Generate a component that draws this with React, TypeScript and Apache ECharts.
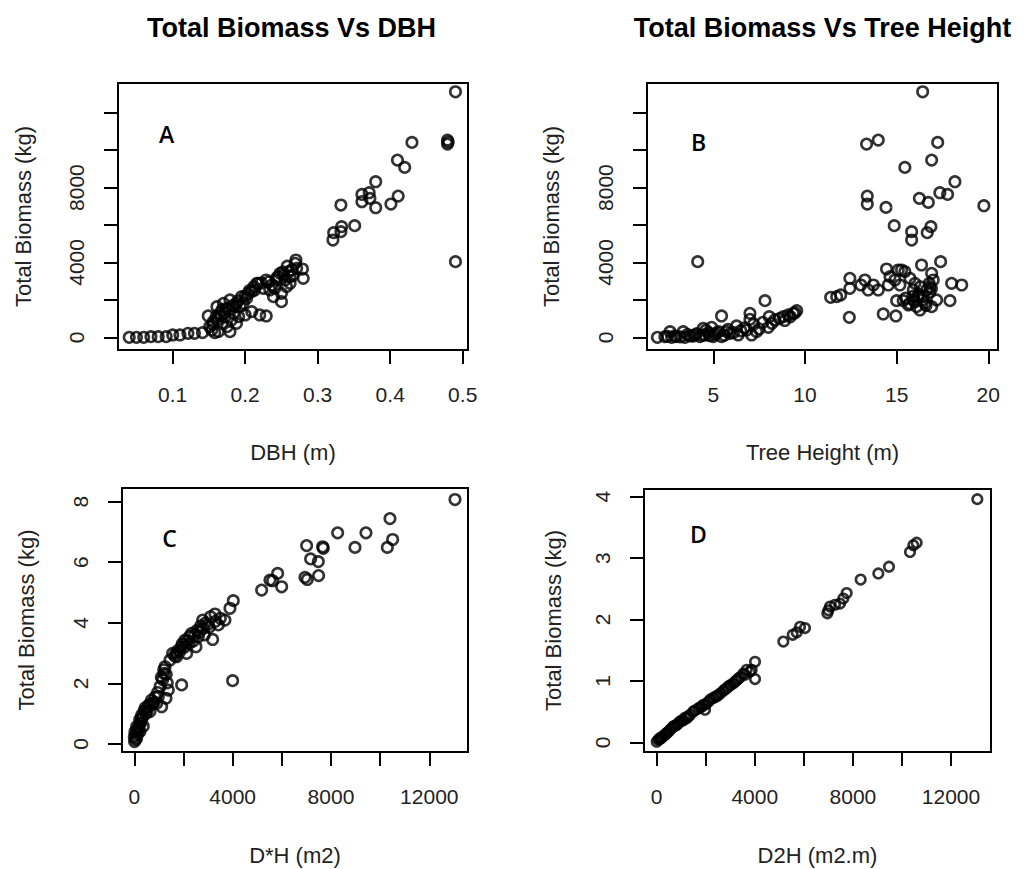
import React, { useEffect, useRef } from "react";
import * as echarts from "echarts";

// ---------- Panel A: Total Biomass vs DBH ----------
const dbhA = [
  0.040, 0.050, 0.060, 0.070, 0.080, 0.091, 0.100, 0.110, 0.121, 0.130, 0.141,
  0.149, 0.151, 0.158, 0.160, 0.161, 0.165, 0.168, 0.170, 0.172, 0.174, 0.179, 0.179,
  0.184, 0.188, 0.188, 0.191, 0.195, 0.200, 0.202, 0.209, 0.209, 0.218, 0.220, 0.225,
  0.229, 0.229, 0.239, 0.241, 0.243, 0.248, 0.250, 0.250, 0.255, 0.260, 0.262, 0.269,
  0.270, 0.271, 0.279, 0.280,
  0.154, 0.156, 0.163, 0.168, 0.175, 0.181, 0.186, 0.193, 0.197, 0.204, 0.213, 0.216,
  0.234, 0.237, 0.246, 0.253, 0.257, 0.262, 0.264,
  0.155, 0.162, 0.166, 0.171, 0.177, 0.183, 0.190, 0.200, 0.206, 0.212, 0.222, 0.232,
  0.244, 0.252, 0.258, 0.266,
  0.321, 0.322, 0.332, 0.333, 0.332, 0.351, 0.361, 0.361, 0.371, 0.372, 0.380, 0.380,
  0.401, 0.411, 0.410, 0.420, 0.430, 0.479, 0.479, 0.480, 0.490, 0.490,
];
const biomassA = [
  0, 0, 0, 36, 36, 36, 125, 125, 214, 214, 250,
  1139, 570, 249, 1104, 1638, 1282, 748, 1816, 1104, 1549, 303, 1994,
  1282, 1816, 748, 1104, 2172, 1193, 2083, 1371, 2439, 2884, 1193, 2617,
  3062, 1139, 2172, 2617, 3062, 3418, 1905, 2350, 3062, 3507, 2884, 3952,
  4130, 3685, 3649, 3151,
  392, 837, 303, 1460, 570, 926, 1638, 1638, 1816, 2350, 2528, 2884,
  2528, 2795, 3240, 3329, 2706, 3240, 3596,
  700, 950, 1150, 1300, 1500, 1700, 1950, 2200, 2500, 2700, 2900, 2950,
  3200, 3500, 3800, 3300,
  5198, 5589, 5643, 5910, 7067, 5963, 7245, 7636, 7725, 7423, 6924, 8313,
  7120, 7547, 9470, 9078, 10413, 10538, 10324, 10430, 13119, 4041,
];

// ---------- Panel B: Total Biomass vs Tree Height ----------
const heightB = [
  1.95, 2.36, 2.64, 2.73, 3.0, 3.36, 3.45, 3.73, 4.0, 4.15, 4.27, 4.45, 4.55, 4.73, 4.91,
  5.0, 5.18, 5.45, 5.45, 5.73, 5.91, 6.27, 6.36, 6.82, 7.0, 7.0, 7.09, 7.36, 7.82, 8.0,
  8.05, 8.36, 8.82, 9.09, 9.36, 9.55,
  2.5, 2.9, 3.2, 3.6, 3.9, 4.1, 4.4, 4.6, 4.8, 5.1, 5.3, 5.6, 5.8, 6.1, 6.5, 6.7, 7.2,
  7.5, 7.7, 8.2, 8.6, 8.9, 9.2, 9.45,
  11.4, 11.73, 11.95, 12.42, 12.45, 12.45, 13.05, 13.27, 13.36, 13.4, 13.4, 13.45, 13.73,
  14.0, 14.0, 14.27, 14.42, 14.45, 14.55, 14.64, 14.87, 14.91, 14.96, 15.0, 15.09, 15.18,
  15.27, 15.36, 15.45, 15.45, 15.64, 15.73, 15.82, 15.82, 15.91, 15.91, 16.0, 16.09, 16.18,
  16.24, 16.27, 16.36, 16.42, 16.45, 16.55, 16.64, 16.67, 16.73, 16.78, 16.82, 16.87, 16.91,
  16.91, 16.91, 17.0, 17.18, 17.24, 17.36, 17.4, 17.78, 17.91, 18.0, 18.18, 18.55, 19.76,
  15.5, 15.7, 16.0, 16.2, 16.4, 16.6, 16.8, 16.9, 16.3, 15.9,
];
const biomassB = [
  0, 36, 303, 0, 36, 303, 0, 71, 125, 4041, 36, 481, 125, 249, 534,
  36, 249, 1139, 36, 303, 214, 605, 125, 392, 1282, 961, 125, 303, 1958, 534,
  1104, 926, 1104, 1193, 1282, 1424,
  50, 80, 20, 150, 60, 200, 100, 380, 90, 150, 300, 100, 420, 250, 350, 500, 700,
  450, 800, 750, 1000, 900, 1100, 1300,
  2136, 2172, 2261, 1068, 2617, 3151, 2795, 3062, 10324, 7120, 7547, 2528, 2795,
  10538, 2528, 1246, 6942, 3649, 2795, 3240, 5963, 3062, 1139, 1958, 3596, 2795,
  3596, 1958, 9078, 3507, 1727, 3151, 5643, 5198, 1994, 2528, 2884, 1638, 2172,
  7423, 1460, 3863, 13119, 2172, 1816, 2528, 5589, 7209, 2884, 2706, 5910, 9470,
  3418, 1638, 3062, 1994, 10413, 7725, 4041, 7636, 1958, 2884, 8313, 2795, 7031,
  2100, 1800, 1900, 2300, 2000, 1700, 2400, 2600, 2700, 2200,
];

// ---------- Panel C: Total Biomass vs D*H ----------
const dhC = [
  13045, 10400, 10509, 10292, 9424, 8977, 8272, 7661, 7688, 7485, 7173, 7010, 6943, 7037,
  7498, 5831, 5994, 5627, 5519, 5180, 4027, 3892, 4000, 3688, 3282, 3417, 3187, 2970, 2780,
  2807, 2604, 2509, 2332, 2237, 2129, 2061, 1926, 1790, 1722, 1559, 1451, 1926, 1207, 1153,
  1342, 1383, 1288, 1112, 976, 800, 570, 475, 298, 231, 95, 27, 0, 10, 95, 231, 366, 637, 909,
  50, 80, 120, 150, 180, 220, 260, 300, 350, 400, 450, 520, 600, 700, 750, 850, 950, 1050,
  1100, 1200, 1250, 1300, 1650, 1700, 1850, 1950, 2050, 2150, 2250, 2400, 2450, 2550, 2650,
  2700, 2850, 2900, 3050, 3100, 3300, 3500,
];
const biomassC = [
  8.07, 7.44, 6.75, 6.49, 6.97, 6.49, 6.97, 6.51, 6.46, 6.02, 6.11, 6.55, 5.5, 5.43,
  5.56, 5.63, 5.19, 5.39, 5.41, 5.08, 4.73, 4.48, 2.09, 4.09, 4.29, 3.93, 3.45, 3.93, 4.09,
  3.82, 3.54, 3.21, 3.65, 3.32, 2.99, 3.43, 3.21, 3.1, 2.88, 2.99, 2.77, 1.95, 2.33, 2.13,
  2.02, 1.78, 1.51, 1.23, 1.56, 1.36, 1.23, 1.01, 0.85, 0.68, 0.57, 0.41, 0.24, 0.08, 0.19,
  0.41, 0.59, 1.07, 1.34,
  0.15, 0.3, 0.45, 0.35, 0.55, 0.8, 0.7, 0.95, 0.9, 1.1, 1.2, 1.1, 1.3, 1.45, 1.35, 1.55, 1.7,
  1.9, 2.2, 2.45, 2.55, 2.3, 2.9, 3.0, 3.05, 3.3, 3.2, 3.4, 3.55, 3.4, 3.6, 3.75, 3.7,
  3.9, 3.6, 4.0, 3.85, 4.2, 4.05, 4.15,
];

// ---------- Panel D: Total Biomass vs D2H ----------
const d2hD = [
  13074, 10600, 10464, 10328, 9472, 9037, 8317, 7746, 7610, 7474, 7270, 7067, 6958, 7000,
  6047, 5844, 5708, 5545, 5164, 4009, 4009, 3873, 3669, 3533, 3330, 3126, 2922, 2718, 2514,
  2310, 2106, 1971, 1903, 1699, 1495, 1291, 1087, 951, 815, 611, 476, 340, 204, 68, 0, 136,
  408, 680, 1223, 1835, 2446, 2854, 3262,
  100, 170, 250, 380, 540, 750, 880, 1020, 1150, 1360, 1560, 1770, 2000, 2200, 2380, 2600,
  2780, 3000, 3200, 3400, 3600, 3800,
];
const biomassD = [
  3.96, 3.25, 3.21, 3.1, 2.86, 2.75, 2.65, 2.43, 2.34, 2.26, 2.24, 2.21, 2.1, 2.15,
  1.86, 1.88, 1.79, 1.75, 1.64, 1.31, 1.03, 1.18, 1.18, 1.12, 1.04, 0.96, 0.91, 0.84, 0.77,
  0.72, 0.66, 0.53, 0.61, 0.55, 0.5, 0.42, 0.36, 0.34, 0.28, 0.23, 0.17, 0.12, 0.08, 0.04,
  0.01, 0.07, 0.15, 0.26, 0.39, 0.58, 0.75, 0.88, 1.01,
  0.05, 0.06, 0.1, 0.14, 0.2, 0.27, 0.31, 0.35, 0.4, 0.45, 0.52, 0.57, 0.62, 0.7, 0.74, 0.8,
  0.86, 0.93, 0.99, 1.06, 1.1, 1.15,
];

// ---------- Tick / label values ----------
const ticksDbh = [0.1, 0.2, 0.3, 0.4, 0.5];
const ticksHeight = [5, 10, 15, 20];
const ticksBiomassKg = [0, 2000, 4000, 6000, 8000, 10000, 12000];
const labelsBiomassKg = [0, 4000, 8000];
const ticksProduct = [0, 2000, 4000, 6000, 8000, 10000, 12000];
const labelsProduct = [0, 4000, 8000, 12000];
const ticksC = [0, 2, 4, 6, 8];
const ticksD = [0, 1, 2, 3, 4];

const titles = ["Total Biomass Vs DBH", "Total Biomass Vs Tree Height"];
const panelLetters = ["A", "B", "C", "D"];
const xNames = ["DBH (m)", "Tree Height (m)", "D*H (m2)", "D2H (m2.m)"];
const yName = "Total Biomass (kg)";

const FONT = '"Liberation Sans", Arial, Helvetica, sans-serif';

function zip(xs: number[], ys: number[]) {
  return xs.map((x, i) => [x, ys[i]]);
}

export default function App() {
  const ref = useRef<HTMLDivElement>(null);

  useEffect(() => {
    if (!ref.current) return;
    const chart = echarts.init(ref.current, null, { renderer: "svg" });

    const grids = [
      { left: 118, top: 83, width: 350, height: 267 },
      { left: 647, top: 83, width: 351, height: 267 },
      { left: 122, top: 488, width: 346, height: 264 },
      { left: 644, top: 489, width: 347, height: 263 },
    ];

    const tickStyle = { show: true, inside: false, length: 14, lineStyle: { color: "#000", width: 2 } };
    const labelBase = { color: "#222", fontSize: 21, fontFamily: FONT };
    const nameBase = { color: "#222", fontSize: 22, fontFamily: FONT };

    const xAx = (
      idx: number,
      min: number,
      max: number,
      ticks: number[],
      labels: number[],
      gap: number
    ) => ({
      type: "value",
      gridIndex: idx,
      min,
      max,
      name: xNames[idx],
      nameLocation: "middle",
      nameGap: gap,
      nameTextStyle: nameBase,
      axisLine: { show: true, onZero: false, lineStyle: { color: "#000", width: 2 } },
      axisTick: { ...tickStyle, customValues: ticks },
      axisLabel: { ...labelBase, margin: 34, customValues: labels, formatter: (v: number) => String(v) },
      splitLine: { show: false },
    });

    const yAx = (
      idx: number,
      min: number,
      max: number,
      ticks: number[],
      labels: number[],
      gap: number
    ) => ({
      type: "value",
      gridIndex: idx,
      min,
      max,
      name: yName,
      nameLocation: "middle",
      nameGap: gap,
      nameRotate: 90,
      nameTextStyle: nameBase,
      axisLine: { show: true, onZero: false, lineStyle: { color: "#000", width: 2 } },
      axisTick: { ...tickStyle, customValues: ticks },
      axisLabel: { ...labelBase, margin: 31, rotate: 90, customValues: labels, formatter: (v: number) => String(v) },
      splitLine: { show: false },
    });

    const scatter = (idx: number, data: number[][], size: number) => ({
      type: "scatter",
      xAxisIndex: idx,
      yAxisIndex: idx,
      data,
      symbol: "circle",
      symbolSize: size,
      itemStyle: { color: "rgba(0,0,0,0)", borderColor: "#000", borderWidth: 2.6 },
      emphasis: { disabled: true },
    });

    const letterPos = [
      [166.5, 133.5],
      [698.5, 142],
      [169.5, 537.5],
      [698.5, 533.5],
    ];

    chart.setOption({
      animation: false,
      backgroundColor: "#fff",
      grid: grids.map((g) => ({
        ...g,
        show: true,
        borderColor: "#000",
        borderWidth: 2,
        backgroundColor: "rgba(0,0,0,0)",
        containLabel: false,
      })),
      xAxis: [
        xAx(0, 0.02455, 0.5073, ticksDbh, ticksDbh, 91),
        xAx(1, 1.384, 20.53, ticksHeight, ticksHeight, 91),
        xAx(2, -500, 13574, ticksProduct, labelsProduct, 92),
        xAx(3, -518, 13631, ticksProduct, labelsProduct, 92),
      ],
      yAxis: [
        yAx(0, -678, 13587, ticksBiomassKg, labelsBiomassKg, 84),
        yAx(1, -678, 13587, ticksBiomassKg, labelsBiomassKg, 85),
        yAx(2, -0.264, 8.45, ticksC, ticksC, 85),
        yAx(3, -0.158, 4.125, ticksD, ticksD, 80),
      ],
      series: [
        scatter(0, zip(dbhA, biomassA), 10.5),
        scatter(1, zip(heightB, biomassB), 10.5),
        scatter(2, zip(dhC, biomassC), 10.5),
        scatter(3, zip(d2hD, biomassD), 9.5),
      ],
      graphic: [
        {
          type: "text",
          x: 291.5,
          y: 28,
          style: {
            text: titles[0],
            fontSize: 27,
            fontWeight: "bold",
            fontFamily: FONT,
            fill: "#000",
            align: "center",
            verticalAlign: "middle",
          },
        },
        {
          type: "text",
          x: 822.5,
          y: 28,
          style: {
            text: titles[1],
            fontSize: 27,
            fontWeight: "bold",
            fontFamily: FONT,
            fill: "#000",
            align: "center",
            verticalAlign: "middle",
          },
        },
        ...panelLetters.map((t, i) => ({
          type: "text",
          x: letterPos[i][0],
          y: letterPos[i][1],
          style: {
            text: t,
            fontSize: 23,
            fontWeight: 600,
            fontFamily: '"Open Sans", "Noto Sans", sans-serif',
            fill: "#000",
            align: "center",
            verticalAlign: "middle",
          },
        })),
      ],
    });

    return () => chart.dispose();
  }, []);

  return (
    <div
      ref={ref}
      style={{ position: "absolute", left: 0, top: 0, width: 1027, height: 869, background: "#fff" }}
    />
  );
}
